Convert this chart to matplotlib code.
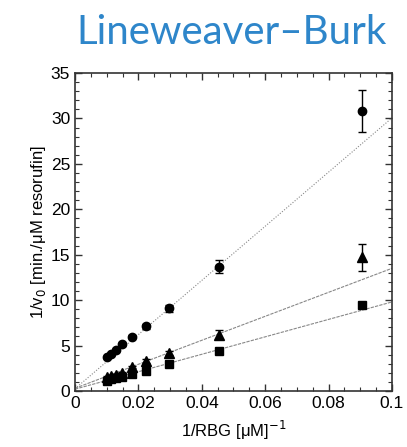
import numpy as np
import matplotlib
matplotlib.use("Agg")
import matplotlib.pyplot as plt
from matplotlib.ticker import MultipleLocator

# data
inv_rbg = [0.0100, 0.0113, 0.0130, 0.0149, 0.0179, 0.0224, 0.0296, 0.0453, 0.0907]
circ_y = [3.78, 4.07, 4.51, 5.14, 5.98, 7.1, 9.1, 13.7, 30.8]
circ_err = [0.1, 0.1, 0.1, 0.15, 0.2, 0.3, 0.4, 0.7, 2.3]
tri_y = [1.5, 1.65, 1.8, 2.0, 2.65, 3.3, 4.2, 6.2, 14.7]
tri_err = [0.1, 0.1, 0.1, 0.1, 0.15, 0.2, 0.2, 0.5, 1.45]
sq_y = [1.13, 1.29, 1.45, 1.57, 1.9, 2.24, 2.93, 4.4, 9.47]
sq_err = [0.05, 0.05, 0.05, 0.05, 0.1, 0.1, 0.1, 0.15, 0.3]

# fitted lines (intercept, slope)
fit_int = [0.25, 0.3, 0.2]
fit_slope = [298, 132, 96]

plt.rcParams['font.family'] = ['Liberation Sans', 'DejaVu Sans']

fig = plt.figure(figsize=(4.07, 4.47), dpi=100)
ax = fig.add_axes([0.1843, 0.1253, 0.7787, 0.7114])

xx = np.array([0, 0.1])
styles = [(0, (1, 1.5)), (0, (3, 1)), (0, (3, 1))]
for b, m, ls in zip(fit_int, fit_slope, styles):
    ax.plot(xx, b + m * xx, color='#888888', lw=0.8, ls=ls)

ax.errorbar(inv_rbg, circ_y, yerr=circ_err, fmt='o', color='black', ms=6,
            capsize=3, elinewidth=1, capthick=1)
ax.errorbar(inv_rbg, tri_y, yerr=tri_err, fmt='^', color='black', ms=6.5,
            capsize=3, elinewidth=1, capthick=1)
ax.errorbar(inv_rbg, sq_y, yerr=sq_err, fmt='s', color='black', ms=5.5,
            capsize=3, elinewidth=1, capthick=1)

ax.set_xlim(0, 0.1)
ax.set_ylim(0, 35)
ax.xaxis.set_minor_locator(MultipleLocator(0.005))
ax.yaxis.set_major_locator(MultipleLocator(5))
ax.yaxis.set_minor_locator(MultipleLocator(1))
ax.set_xticks([0, 0.02, 0.04, 0.06, 0.08, 0.1])
ax.set_xticklabels(['0', '0.02', '0.04', '0.06', '0.08', '0.1'])
ax.tick_params(which='both', direction='in', top=True, right=True, colors='#333333',
               labelcolor='black', labelsize=12.5)
ax.tick_params(which='major', length=5, width=1)
ax.tick_params(which='minor', length=3, width=0.8)
for s in ax.spines.values():
    s.set_linewidth(1.2)
    s.set_color('#333333')

ax.set_xlabel('1/RBG [\u03bcM]$^{-1}$', fontsize=12, labelpad=6)
ax.set_ylabel('1/v$_0$ [min./\u03bcM resorufin]', fontsize=12, labelpad=2)

fig.text(0.568, 0.902, 'Lineweaver\u2013Burk', ha='center', va='baseline',
         fontsize=29, color='#2E86CA', family='Lato')

fig.savefig('out.png', dpi=100)
